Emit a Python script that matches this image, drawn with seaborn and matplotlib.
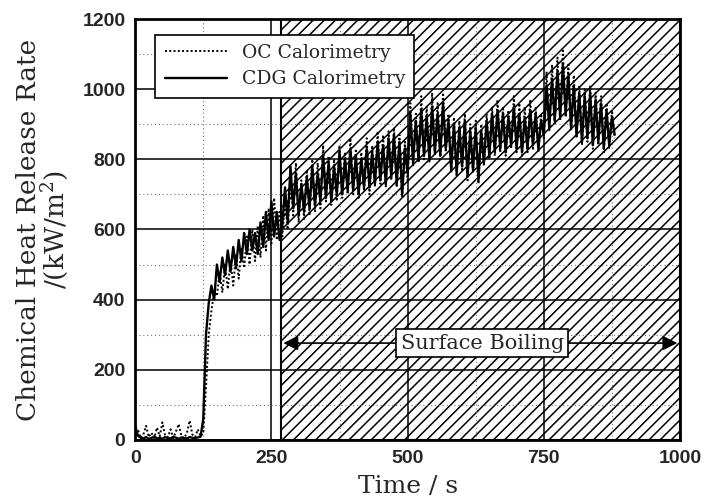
import matplotlib
matplotlib.use("Agg")
import matplotlib.pyplot as plt
import pandas as pd
import seaborn as sns

# sample times (s)
time_s = [0, 5, 10, 15, 20, 25, 30, 35, 40, 45,
          50, 55, 60, 65, 70, 75, 80, 85, 90, 95,
          100, 105, 110, 115, 120, 125, 130, 135, 140, 145,
          150, 155, 160, 165, 170, 175, 180, 185, 190, 195,
          200, 205, 210, 215, 220, 225, 230, 235, 240, 245,
          250, 255, 260, 265, 270, 275, 280, 285, 290, 295,
          300, 305, 310, 315, 320, 325, 330, 335, 340, 345,
          350, 355, 360, 365, 370, 375, 380, 385, 390, 395,
          400, 405, 410, 415, 420, 425, 430, 435, 440, 445,
          450, 455, 460, 465, 470, 475, 480, 485, 490, 495,
          500, 505, 510, 515, 520, 525, 530, 535, 540, 545,
          550, 555, 560, 565, 570, 575, 580, 585, 590, 595,
          600, 605, 610, 615, 620, 625, 630, 635, 640, 645,
          650, 655, 660, 665, 670, 675, 680, 685, 690, 695,
          700, 705, 710, 715, 720, 725, 730, 735, 740, 745,
          750, 755, 760, 765, 770, 775, 780, 785, 790, 795,
          800, 805, 810, 815, 820, 825, 830, 835, 840, 845,
          850, 855, 860, 865, 870, 875, 880]

# CDG calorimetry (kW/m2)
cdg_hrr = [40, 12, 6, 4, 8, 3, 5, 10, 4, 6,
           3, 8, 5, 4, 9, 6, 3, 7, 5, 4,
           8, 6, 5, 7, 9, 60, 300, 390, 440, 400,
           500, 450, 520, 470, 540, 480, 550, 490, 570, 510,
           590, 530, 600, 540, 590, 530, 620, 550, 650, 570,
           680, 580, 650, 570, 610, 720, 620, 780, 660, 760,
           640, 730, 650, 750, 660, 780, 670, 760, 680, 810,
           690, 790, 680, 780, 700, 820, 700, 800, 710, 830,
           710, 810, 700, 800, 720, 830, 720, 820, 730, 850,
           740, 840, 730, 860, 750, 870, 730, 850, 700, 830,
           760, 930, 790, 910, 800, 940, 810, 920, 800, 950,
           820, 930, 810, 960, 830, 910, 770, 900, 760, 890,
           780, 910, 750, 880, 770, 890, 740, 880, 790, 910,
           810, 930, 820, 940, 830, 930, 820, 920, 840, 950,
           830, 930, 820, 920, 830, 940, 840, 930, 830, 910,
           870, 1010, 890, 1030, 910, 1050, 920, 1070, 930, 1040,
           890, 1010, 870, 990, 850, 980, 860, 990, 840, 970,
           850, 960, 830, 940, 840, 920, 870]

# OC calorimetry (kW/m2)
oc_hrr = [10, 30, 5, 15, 40, 8, 20, 5, 35, 10,
          50, 12, 8, 30, 5, 25, 45, 10, 5, 20,
          55, 15, 8, 30, 10, 20, 150, 300, 370, 420,
          410, 480, 420, 500, 430, 510, 440, 530, 460, 550,
          490, 580, 500, 600, 510, 610, 520, 640, 540, 660,
          560, 690, 570, 650, 580, 680, 600, 750, 640, 790,
          620, 740, 630, 770, 640, 800, 650, 790, 660, 840,
          680, 810, 670, 800, 680, 840, 690, 820, 700, 860,
          700, 830, 690, 820, 710, 860, 700, 840, 720, 880,
          730, 870, 720, 880, 740, 890, 720, 870, 690, 850,
          740, 960, 780, 930, 790, 980, 800, 950, 790, 990,
          810, 960, 800, 990, 820, 930, 760, 920, 750, 910,
          770, 930, 740, 900, 760, 910, 730, 900, 780, 930,
          800, 950, 810, 970, 820, 950, 810, 940, 830, 980,
          820, 960, 810, 950, 820, 970, 830, 950, 820, 930,
          860, 1050, 880, 1070, 900, 1090, 910, 1110, 920, 1070,
          880, 1040, 860, 1010, 840, 1000, 850, 1010, 830, 990,
          840, 980, 820, 960, 830, 940, 860]

x_ticks = [0, 250, 500, 750, 1000]
y_ticks = [0, 200, 400, 600, 800, 1000, 1200]
boiling_start = 268
boiling_end = 1000

df = pd.DataFrame({"time": time_s, "OC": oc_hrr, "CDG": cdg_hrr})

sns.set_style("white")
plt.rcParams["mathtext.fontset"] = "dejavuserif"
plt.rcParams["hatch.linewidth"] = 1.1

fig = plt.figure(figsize=(7.04, 5.01), dpi=100)
ax = fig.add_axes([0.192, 0.122, 0.774, 0.840])

# surface boiling region
ax.axvspan(boiling_start, boiling_end, facecolor="white", edgecolor="black",
           hatch="///", lw=1.5, zorder=0.2)

sns.lineplot(data=df, x="time", y="OC", ax=ax, color="black", lw=1.4,
             linestyle=(0, (1, 1.2)), estimator=None, sort=False,
             label="OC Calorimetry", zorder=3)
sns.lineplot(data=df, x="time", y="CDG", ax=ax, color="black", lw=1.7,
             estimator=None, sort=False, label="CDG Calorimetry", zorder=3)

ax.set_xlim(0, 1000)
ax.set_ylim(0, 1200)
ax.set_xticks(x_ticks)
ax.set_yticks(y_ticks)
ax.set_xticks([125, 375, 625, 875], minor=True)
ax.set_yticks([100, 300, 500, 700, 900, 1100], minor=True)
ax.set_axisbelow(True)
ax.grid(which="major", color="black", lw=1.1, ls="-")
ax.grid(which="minor", color="0.45", lw=0.8, ls=(0, (1, 2.5)))
ax.tick_params(which="both", length=0, pad=7)
for lab in ax.get_xticklabels() + ax.get_yticklabels():
    lab.set_fontfamily("Liberation Sans")
    lab.set_fontweight("bold")
    lab.set_fontsize(14)
for sp in ax.spines.values():
    sp.set_linewidth(2)
    sp.set_color("black")

ax.set_xlabel("Time / s", family="DejaVu Serif", fontsize=18, labelpad=6)
ax.set_ylabel("Chemical Heat Release Rate\n/(kW/m$^2$)", family="DejaVu Serif",
              fontsize=19, labelpad=8, linespacing=0.95)

leg = ax.legend(loc="upper left", bbox_to_anchor=(0.037, 0.963), borderaxespad=0,
                prop={"family": "DejaVu Serif", "size": 13.5}, handlelength=3.3,
                fancybox=False, framealpha=1, edgecolor="black",
                borderpad=0.5, labelspacing=0.45)
leg.get_frame().set_linewidth(1.2)
leg.set_zorder(5)

# surface boiling arrow and label
ax.annotate("", xy=(272, 276), xytext=(995, 276),
            arrowprops=dict(arrowstyle="<|-|>", color="black", lw=1.2,
                            mutation_scale=22, shrinkA=0, shrinkB=0), zorder=4)
ax.text(637, 276, "Surface Boiling", family="DejaVu Serif", fontsize=15,
        ha="center", va="center", zorder=6,
        bbox=dict(boxstyle="square,pad=0.2", fc="white", ec="black", lw=1.2))

fig.savefig("out.png", dpi=100)
